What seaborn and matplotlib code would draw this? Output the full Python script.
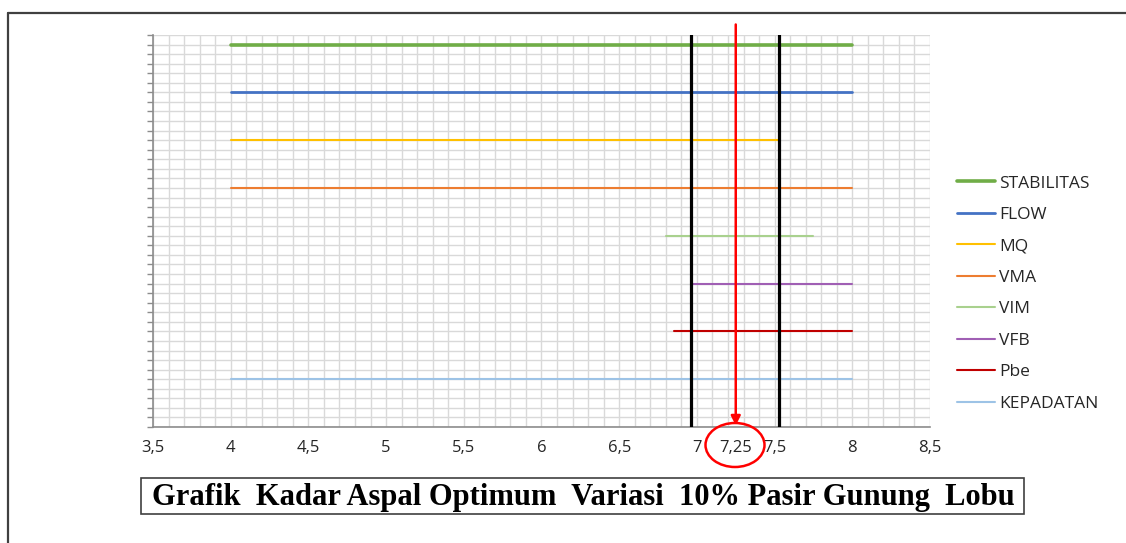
import numpy as np
import pandas as pd
import matplotlib
matplotlib.use("Agg")
import matplotlib.pyplot as plt
import seaborn as sns
from matplotlib.patches import Ellipse, Rectangle
from matplotlib.lines import Line2D
from matplotlib.ticker import MultipleLocator, FuncFormatter

# --- DATA ---
params = ['STABILITAS', 'FLOW', 'MQ', 'VMA', 'VIM', 'VFB', 'Pbe', 'KEPADATAN']
kadar_start = [4.0, 4.0, 4.0, 4.0, 6.8, 6.96, 6.85, 4.0]
kadar_end = [8.0, 8.0, 7.52, 8.0, 7.75, 8.0, 8.0, 8.0]
batas_bawah = 6.96
batas_atas = 7.53
kadar_optimum = 7.25

# --- STYLE ---
COLORS = {
    'STABILITAS': '#70AD47',
    'FLOW': '#4472C4',
    'MQ': '#FFC000',
    'VMA': '#ED7D31',
    'VIM': '#A9D18E',
    'VFB': '#A05FB4',
    'Pbe': '#C00000',
    'KEPADATAN': '#9DC3E6',
}
WIDTHS = {'STABILITAS': 2.6, 'FLOW': 2.0}

sns.set_style('white')
plt.rcParams['font.family'] = ['Open Sans', 'DejaVu Sans']

n = len(params)
rows = []
for i, p in enumerate(params):
    lvl = 5 * (n - i)
    rows.append({'param': p, 'kadar': kadar_start[i], 'y': lvl})
    rows.append({'param': p, 'kadar': kadar_end[i], 'y': lvl})
df = pd.DataFrame(rows)

fig = plt.figure(figsize=(11.26, 5.43), dpi=100)
ax = fig.add_axes([153 / 1126, 116 / 543, 777 / 1126, 392 / 543])

for p in params:
    sub = df[df['param'] == p]
    sns.lineplot(data=sub, x='kadar', y='y', color=COLORS[p],
                 linewidth=WIDTHS.get(p, 1.5), label=p, ax=ax,
                 sort=False, estimator=None, zorder=3)

# batas kadar aspal
ax.axvline(batas_bawah, color='black', linewidth=2.3, zorder=4)
ax.axvline(batas_atas, color='black', linewidth=2.3, zorder=4)

# panah kadar optimum
ax.annotate('', xy=(kadar_optimum, 0.15), xytext=(kadar_optimum, 42.1),
            arrowprops=dict(arrowstyle='-|>', color='#FF0000', lw=1.8,
                            mutation_scale=14, shrinkA=0, shrinkB=0),
            annotation_clip=False, zorder=5)

ax.set_xlim(3.5, 8.5)
ax.set_ylim(0, 41)
ax.xaxis.set_major_locator(MultipleLocator(0.5))
ax.xaxis.set_minor_locator(MultipleLocator(0.1))
ax.yaxis.set_major_locator(MultipleLocator(1))
ax.xaxis.set_major_formatter(FuncFormatter(lambda v, pos: f"{v:g}".replace('.', ',')))
ax.set_yticklabels([])
ax.set_xlabel('')
ax.set_ylabel('')

ax.grid(True, which='both', axis='x', color='#d9d9d9', linewidth=1.0, zorder=0)
ax.grid(True, which='major', axis='y', color='#d9d9d9', linewidth=1.0, zorder=0)
ax.set_axisbelow(True)

for s in ['top', 'right']:
    ax.spines[s].set_visible(False)
for s in ['left', 'bottom']:
    ax.spines[s].set_color('#8c8c8c')
    ax.spines[s].set_linewidth(1.2)

ax.tick_params(axis='x', which='major', direction='inout', length=7, width=1,
               color='#8c8c8c', pad=6, labelsize=12, labelcolor='#262626')
ax.tick_params(axis='x', which='minor', direction='in', length=3, width=1,
               color='#8c8c8c')
ax.tick_params(axis='y', which='major', direction='out', length=4.5, width=1,
               color='#8c8c8c', left=True)

# label 7,25 dengan lingkaran
ax.text(kadar_optimum, -0.034, '7,25', transform=ax.get_xaxis_transform(),
        ha='center', va='top', fontsize=12, color='#262626')
fig.patches.append(Ellipse((735 / 1126, 1 - 445 / 543), 59 / 1126, 44 / 543,
                           transform=fig.transFigure, fill=False,
                           edgecolor='#FF0000', linewidth=1.8))

# legend
handles, labels = ax.get_legend_handles_labels()
ax.legend(handles, labels, loc='center left', frameon=False,
          bbox_to_anchor=(948 / 1126, 1 - 293.5 / 543),
          bbox_transform=fig.transFigure, fontsize=12.5, borderpad=0,
          handlelength=2.2, handletextpad=0.25, labelspacing=0.88)

# kotak judul
fig.patches.append(Rectangle((141 / 1126, 1 - 514 / 543), 883 / 1126, 36 / 543,
                             transform=fig.transFigure, fill=False,
                             edgecolor='#404040', linewidth=1.2))
fig.text(583 / 1126, 1 - 497 / 543,
         'Grafik  Kadar Aspal Optimum  Variasi  10% Pasir Gunung  Lobu',
         ha='center', va='center', fontsize=22, fontweight='bold',
         family=['Liberation Serif', 'DejaVu Serif'], color='black')

# bingkai luar
fig.add_artist(Line2D([8 / 1126, 1], [1 - 12.5 / 543, 1 - 12.5 / 543],
                      transform=fig.transFigure, color='#404040', linewidth=1.6))
fig.add_artist(Line2D([8 / 1126, 8 / 1126], [0, 1 - 12.5 / 543],
                      transform=fig.transFigure, color='#404040', linewidth=1.6))

fig.savefig('out.png', dpi=100)
plt.close(fig)
